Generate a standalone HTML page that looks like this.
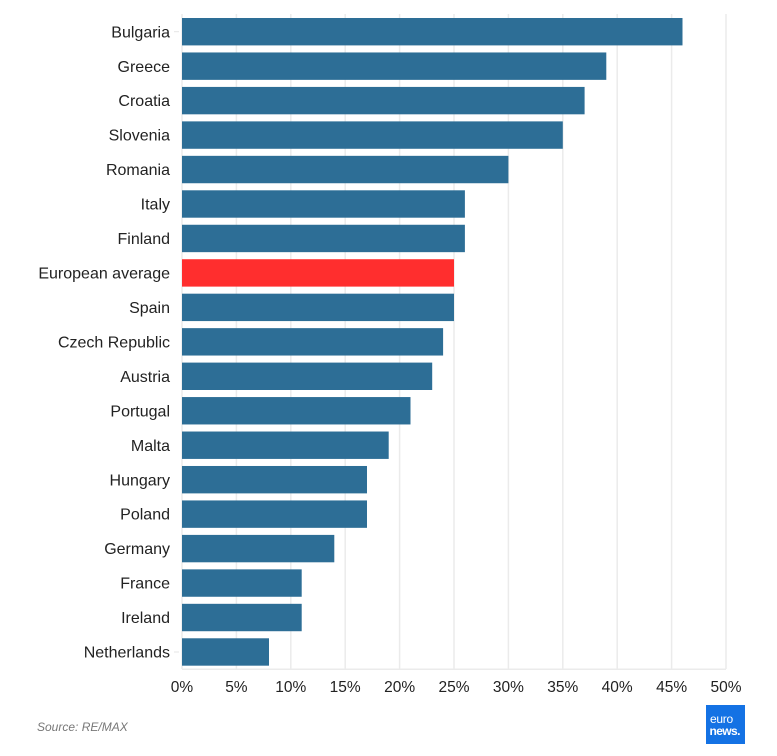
<!DOCTYPE html>
<html><head><meta charset="utf-8"><style>
html,body{margin:0;padding:0;background:#fff;}
svg{display:block;}
text{font-family:"Liberation Sans",sans-serif;}
</style></head><body>
<svg width="777" height="756" viewBox="0 0 777 756" xmlns="http://www.w3.org/2000/svg">
<g stroke="#ebebeb" stroke-width="1.5">
<line x1="182" y1="14" x2="182" y2="669"/>
<line x1="236.4" y1="14" x2="236.4" y2="669"/>
<line x1="290.8" y1="14" x2="290.8" y2="669"/>
<line x1="345.2" y1="14" x2="345.2" y2="669"/>
<line x1="399.6" y1="14" x2="399.6" y2="669"/>
<line x1="454" y1="14" x2="454" y2="669"/>
<line x1="508.4" y1="14" x2="508.4" y2="669"/>
<line x1="562.8" y1="14" x2="562.8" y2="669"/>
<line x1="617.2" y1="14" x2="617.2" y2="669"/>
<line x1="671.6" y1="14" x2="671.6" y2="669"/>
<line x1="726" y1="14" x2="726" y2="669"/>
<line x1="182" y1="669.3" x2="726" y2="669.3"/>
</g>
<g fill="#2d6e96">
<rect x="182" y="18" width="500.5" height="27.4"/>
<rect x="182" y="52.46" width="424.3" height="27.4"/>
<rect x="182" y="86.92" width="402.6" height="27.4"/>
<rect x="182" y="121.38" width="380.8" height="27.4"/>
<rect x="182" y="155.84" width="326.4" height="27.4"/>
<rect x="182" y="190.3" width="282.9" height="27.4"/>
<rect x="182" y="224.76" width="282.9" height="27.4"/>
<rect x="182" y="293.68" width="272" height="27.4"/>
<rect x="182" y="328.14" width="261.1" height="27.4"/>
<rect x="182" y="362.6" width="250.2" height="27.4"/>
<rect x="182" y="397.06" width="228.5" height="27.4"/>
<rect x="182" y="431.52" width="206.7" height="27.4"/>
<rect x="182" y="465.98" width="185" height="27.4"/>
<rect x="182" y="500.44" width="185" height="27.4"/>
<rect x="182" y="534.9" width="152.3" height="27.4"/>
<rect x="182" y="569.36" width="119.7" height="27.4"/>
<rect x="182" y="603.82" width="119.7" height="27.4"/>
<rect x="182" y="638.28" width="87" height="27.4"/>
</g>
<rect x="182" y="259.22" width="272" height="27.4" fill="#ff2e2e"/>
<g stroke="#e4e4e4" stroke-width="1">
<line x1="174" y1="31.7" x2="179" y2="31.7"/>
<line x1="174" y1="652" x2="179" y2="652"/>
</g>
<g font-size="16" fill="#222" text-anchor="end">
<text x="170" y="37.3">Bulgaria</text>
<text x="170" y="71.8">Greece</text>
<text x="170" y="106.2">Croatia</text>
<text x="170" y="140.7">Slovenia</text>
<text x="170" y="175.1">Romania</text>
<text x="170" y="209.6">Italy</text>
<text x="170" y="244.1">Finland</text>
<text x="170" y="278.5">European average</text>
<text x="170" y="313">Spain</text>
<text x="170" y="347.4">Czech Republic</text>
<text x="170" y="381.9">Austria</text>
<text x="170" y="416.4">Portugal</text>
<text x="170" y="450.8">Malta</text>
<text x="170" y="485.3">Hungary</text>
<text x="170" y="519.7">Poland</text>
<text x="170" y="554.2">Germany</text>
<text x="170" y="588.7">France</text>
<text x="170" y="623.1">Ireland</text>
<text x="170" y="657.6">Netherlands</text>
</g>
<g font-size="15.5" fill="#222" text-anchor="middle">
<text x="182" y="692">0%</text>
<text x="236.4" y="692">5%</text>
<text x="290.8" y="692">10%</text>
<text x="345.2" y="692">15%</text>
<text x="399.6" y="692">20%</text>
<text x="454" y="692">25%</text>
<text x="508.4" y="692">30%</text>
<text x="562.8" y="692">35%</text>
<text x="617.2" y="692">40%</text>
<text x="671.6" y="692">45%</text>
<text x="726" y="692">50%</text>
</g>
<text x="37" y="731" font-size="12" font-style="italic" fill="#777">Source: RE/MAX</text>
<rect x="706" y="705" width="39" height="39" fill="#1472e4"/>
<text x="710" y="723" font-size="12" fill="#fff" letter-spacing="-0.3">euro</text>
<text x="709.5" y="735" font-size="12" font-weight="bold" fill="#fff" letter-spacing="-0.6">news.</text>
</svg>
</body></html>
